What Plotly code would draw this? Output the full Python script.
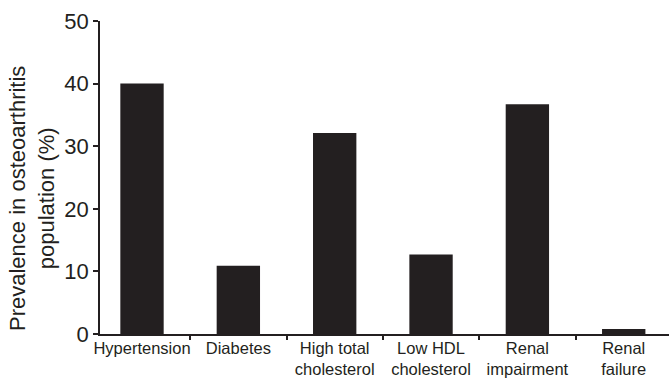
import plotly.graph_objects as go

categories = ["Hypertension", "Diabetes", "High total<br>cholesterol",
              "Low HDL<br>cholesterol", "Renal<br>impairment", "Renal<br>failure"]
prevalence = [40.0, 10.9, 32.1, 12.7, 36.7, 0.8]
y_ticks = [0, 10, 20, 30, 40, 50]

fig = go.Figure(go.Bar(
    x=categories, y=prevalence,
    marker=dict(color="#231f20", line=dict(width=0)),
))

font = "Liberation Sans, Arial, Helvetica, sans-serif"

fig.update_layout(
    width=669, height=379,
    margin=dict(l=100, r=0, t=21, b=45),
    paper_bgcolor="white", plot_bgcolor="white",
    bargap=0.55,
    showlegend=False,
    font=dict(family=font, color="#231f20"),
    annotations=[dict(
        text="Prevalence in osteoarthritis<br>population (%)",
        textangle=-90, xref="paper", yref="paper",
        x=(32 - 100) / 569, y=(334 - 199) / 313,
        xanchor="center", yanchor="middle", showarrow=False,
        font=dict(size=22, family=font, color="#231f20"),
    )],
)
fig.update_xaxes(
    type="category", range=[-0.436, 5.47],
    showline=True, linecolor="#231f20", linewidth=1.5,
    ticks="outside", tickson="boundaries", ticklen=4, tickwidth=1.5,
    tickcolor="#231f20", showgrid=False, zeroline=False,
    tickangle=0, automargin=False,
    ticklabelstandoff=-2,
    tickfont=dict(size=16.5, family=font, color="#231f20"),
)
fig.update_yaxes(
    range=[0, 50], tickvals=y_ticks, automargin=False,
    showline=True, linecolor="#231f20", linewidth=1.5,
    ticks="outside", ticklen=5, tickwidth=1.5, tickcolor="#231f20",
    showgrid=False, zeroline=False,
    tickfont=dict(size=22, family=font, color="#231f20"),
)

fig.write_html(
    "out.html",
    config={"displayModeBar": False},
    post_script="document.body.style.margin='0';document.body.style.overflow='hidden';",
)
